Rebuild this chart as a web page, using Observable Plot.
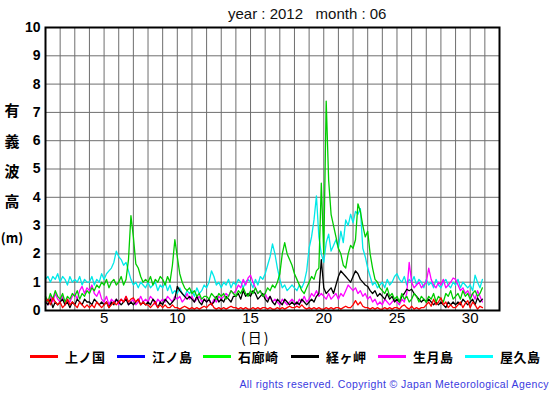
<!DOCTYPE html>
<html>
<head>
<meta charset="utf-8">
<script src="https://cdn.jsdelivr.net/npm/d3@7"></script>
<script src="https://cdn.jsdelivr.net/npm/@observablehq/plot@0.6"></script>
<style>
  html, body { margin: 0; padding: 0; background: #fff; }
  #wrap { position: relative; width: 555px; height: 395px; overflow: hidden; font-family: "Liberation Sans", Arial, sans-serif; }
  #wrap svg { position: absolute; left: 0; top: 0; }
  .abs { position: absolute; white-space: nowrap; }
  .ylab { position: absolute; width: 24px; text-align: center; font-family: "Noto Sans CJK JP", sans-serif; font-size: 15px; font-weight: bold; line-height: 18px; }
  .leg { position: absolute; font-family: "Noto Sans CJK JP", sans-serif; font-size: 13px; font-weight: bold; line-height: normal; white-space: nowrap; }
  .sw { position: absolute; height: 3px; }
  g[aria-label="y-axis tick label"] text { font-weight: bold; font-size: 14px; }
  g[aria-label="x-axis tick label"] text { font-size: 15px; }
</style>
</head>
<body>
<div id="wrap"></div>
<script>
// ---- data (hourly significant wave height, sampled every 4 h, June 2012) ----
const titleText = "year : 2012   month : 06";
const stations = ["上ノ国", "江ノ島", "石廊崎", "経ヶ岬", "生月島", "屋久島"];
const colors   = ["#ff0000", "#0000ff", "#00ff00", "#000000", "#ff00ff", "#00ffff"];
const lineColors = ["#ff0000", "#0000ff", "#00cc00", "#000000", "#ff00ff", "#00e8e8"];
const xTickLabels = [5, 10, 15, 20, 25, 30];
const yTickLabels = [0, 1, 2, 3, 4, 5, 6, 7, 8, 9, 10];
const gridDays = d3.range(1, 33);
const samplesPerDay = 6;

const kaminokuni = [
  0.3,0.4,0.2,0.45,0.3,0.2, 0.3,0.1,0.2,0.4,0.2,0.3, 0.2,0.1,0.3,0.2,0.1,0.2,
  0.1,0.2,0.1,0.3,0.2,0.1, 0.2,0.3,0.1,0.2,0.3,0.2, 0.3,0.4,0.3,0.5,0.3,0.4,
  0.45,0.3,0.4,0.2,0.3,0.2, 0.2,0.1,0.2,0.3,0.1,0.2, 0.1,0.2,0.1,0.1,0.2,0.1,
  0.1,0.05,0.1,0.15,0.1,0.05, 0.1,0.05,0.1,0.05,0.1,0.15, 0.1,0.2,0.25,0.1,0.05,0.1,
  0.05,0.1,0.05,0.1,0.15,0.1, 0.1,0.05,0.1,0.05,0.1,0.05, 0.05,0.1,0.05,0.1,0.05,0.1,
  0.1,0.05,0.1,0.05,0.05,0.1, 0.05,0.1,0.05,0.1,0.15,0.1, 0.1,0.15,0.1,0.2,0.1,0.05,
  0.1,0.05,0.1,0.05,0.1,0.05, 0.05,0.1,0.05,0.1,0.05,0.1, 0.1,0.05,0.1,0.15,0.1,0.1,
  0.2,0.35,0.2,0.3,0.15,0.1, 0.1,0.05,0.1,0.05,0.1,0.05, 0.05,0.1,0.05,0.1,0.05,0.1,
  0.1,0.05,0.15,0.2,0.1,0.05, 0.15,0.05,0.1,0.05,0.1,0.1, 0.2,0.3,0.15,0.4,0.2,0.3,
  0.45,0.2,0.3,0.1,0.2,0.1, 0.1,0.2,0.3,0.1,0.25,0.35, 0.1,0.3,0.2,0.05,0.15,0.1
];
const enoshima = []; // no data plotted
const irozaki = [
  0.5,0.3,0.6,0.4,0.7,0.5, 0.4,0.6,0.3,0.5,0.4,0.6, 0.5,0.7,0.4,0.6,0.5,0.7,
  0.6,0.8,0.7,0.9,0.8,1.0, 0.9,1.1,0.8,1.0,1.1,0.9, 1.0,1.2,0.9,1.1,1.8,3.35,
  2.6,1.65,1.5,1.2,1.0,1.1, 1.0,1.2,0.9,1.1,1.0,1.2, 1.1,0.9,1.2,1.0,1.6,2.5,
  1.9,1.3,1.0,0.8,0.7,0.8, 0.6,0.7,0.5,0.6,0.4,0.5, 0.5,0.4,0.6,0.5,0.4,0.6,
  0.5,0.6,0.4,0.5,0.7,0.6, 0.5,0.7,0.6,0.8,0.6,0.5, 0.7,0.6,0.8,0.6,0.7,0.5,
  0.6,0.8,0.7,0.9,0.8,1.0, 1.3,2.0,2.4,2.0,1.8,1.6, 1.3,1.1,0.9,0.7,0.6,0.8,
  1.0,1.2,1.1,1.4,1.5,4.5, 2.0,7.4,4.6,3.4,3.0,2.6, 2.2,2.0,1.6,1.5,2.0,2.3,
  2.2,2.5,3.77,3.5,3.0,2.6, 2.8,2.0,1.5,1.1,1.0,0.8, 0.7,0.6,0.8,0.5,0.6,0.4,
  0.5,0.3,0.6,0.4,0.5,0.3, 0.4,0.6,0.5,0.3,0.5,0.4, 0.3,0.5,0.4,0.6,0.3,0.5,
  0.4,0.3,0.6,0.5,0.7,0.4, 0.5,0.6,0.4,0.7,0.5,0.6, 0.4,0.6,0.7,0.5,0.6,0.8
];
const kyogamisaki = [
  0.3,0.2,0.4,0.1,0.3,0.2, 0.3,0.4,0.2,0.3,0.1,0.3, 0.2,0.4,0.3,0.2,0.4,0.3,
  0.3,0.2,0.4,0.3,0.2,0.3, 0.2,0.3,0.1,0.3,0.2,0.4, 0.3,0.2,0.3,0.4,0.2,0.3,
  0.2,0.3,0.4,0.2,0.3,0.2, 0.3,0.2,0.4,0.3,0.1,0.3, 0.2,0.4,0.3,0.2,0.3,0.4,
  0.85,0.7,0.6,0.5,0.4,0.5, 0.4,0.3,0.5,0.3,0.2,0.4, 0.3,0.4,0.2,0.3,0.5,0.3,
  0.4,0.3,0.5,0.4,0.3,0.5, 0.5,0.6,0.4,0.7,0.5,0.6, 0.5,0.7,0.6,0.4,0.5,0.6,
  0.4,0.3,0.5,0.3,0.2,0.4, 0.3,0.2,0.4,0.3,0.2,0.3, 0.2,0.3,0.2,0.4,0.3,0.2,
  0.3,0.4,0.3,0.5,0.6,1.8, 0.8,0.6,0.7,0.8,0.6,0.9, 1.2,1.4,1.3,1.2,1.1,1.0,
  1.2,1.4,1.3,1.1,1.0,0.9, 0.85,0.7,0.6,0.7,0.5,0.6, 0.5,0.4,0.6,0.4,0.5,0.3,
  0.4,0.3,0.5,0.6,0.75,0.7, 0.75,0.6,0.5,0.4,0.3,0.4, 0.3,0.4,0.3,0.2,0.3,0.2,
  0.3,0.2,0.1,0.3,0.2,0.3, 0.2,0.3,0.2,0.4,0.3,0.2, 0.3,0.4,0.2,0.45,0.3,0.4
];
const ikitsukishima = [
  0.4,0.2,0.5,0.3,0.6,0.4, 0.3,0.5,0.2,0.4,0.3,0.5, 0.6,0.4,0.7,0.85,0.6,0.8,
  0.7,0.9,0.6,0.5,0.7,0.4, 0.3,0.5,0.2,0.4,0.3,0.4, 0.2,0.4,0.3,0.5,0.2,0.3,
  0.4,0.2,0.3,0.5,0.3,0.4, 0.3,0.5,0.4,0.2,0.4,0.3, 0.4,0.3,0.5,0.4,0.3,0.5,
  0.4,0.5,0.3,0.4,0.6,0.4, 0.5,0.3,0.4,0.5,0.3,0.4, 0.3,0.4,0.2,0.4,0.3,0.5,
  0.4,0.5,0.6,0.5,0.7,0.6, 0.7,0.9,0.8,1.1,0.9,1.15, 1.25,1.0,0.8,0.6,0.7,0.5,
  0.6,0.4,0.5,0.3,0.4,0.3, 0.2,0.4,0.3,0.2,0.3,0.4, 0.3,0.2,0.4,0.3,0.5,0.3,
  0.4,0.6,0.5,0.7,0.5,0.6, 0.5,0.4,0.6,0.4,0.5,0.6, 0.4,0.6,0.5,0.7,0.9,0.8,
  0.7,0.8,0.6,0.7,0.5,0.6, 0.4,0.5,0.3,0.4,0.2,0.3, 0.2,0.4,0.3,0.2,0.3,0.4,
  0.3,0.2,0.4,0.3,0.6,1.7, 1.0,0.8,0.9,1.0,0.8,0.9, 1.0,1.5,1.1,0.9,0.8,1.0,
  0.9,1.1,0.8,0.9,1.0,1.15, 1.1,0.9,0.7,0.8,0.6,0.7, 0.5,0.6,0.4,0.7,0.5,0.3
];
const yakushima = [
  1.1,1.2,1.0,1.2,1.1,1.3, 1.0,1.2,1.1,0.9,1.2,1.0, 1.1,1.0,1.2,0.9,1.1,1.0,
  1.0,1.2,0.9,1.1,1.0,1.3, 1.1,1.3,1.4,1.5,1.7,2.1, 1.9,1.8,1.6,1.7,1.4,1.1,
  0.9,1.0,0.8,1.0,0.9,0.8, 1.0,0.8,0.9,1.0,0.7,0.9, 0.8,1.0,0.7,0.9,0.6,0.7,
  0.6,0.8,0.6,0.5,0.7,0.6, 0.7,0.5,0.8,0.6,0.7,0.9, 0.8,1.0,1.4,1.2,0.9,1.0,
  0.8,1.0,0.9,1.1,0.8,1.0, 0.9,1.1,1.0,0.8,1.0,1.1, 1.0,0.8,1.1,0.9,1.2,1.1,
  1.3,1.6,1.9,2.35,2.0,1.5, 1.1,0.8,0.9,0.7,0.8,0.9, 0.8,0.7,0.9,0.8,1.0,1.4,
  2.2,2.6,3.2,4.05,2.6,2.0, 1.7,2.4,2.7,2.1,2.3,2.5, 2.2,2.8,2.4,3.2,3.0,3.4,
  3.1,3.5,3.4,3.6,2.2,1.9, 1.5,1.2,0.9,1.0,0.8,0.9, 1.0,0.8,1.1,0.9,1.0,1.2,
  1.3,1.1,1.0,1.2,0.9,1.1, 1.0,1.2,0.9,1.1,1.0,0.8, 1.1,0.9,1.0,0.8,1.1,0.9,
  0.8,1.0,1.1,0.9,0.8,1.0, 0.9,1.1,0.8,1.0,0.9,0.8, 0.9,0.7,1.25,1.0,0.8,1.1
];
const seriesValues = [kaminokuni, enoshima, irozaki, kyogamisaki, ikitsukishima, yakushima];
const copyright = "All rights reserved. Copyright \u00a9 Japan Meteorological Agency";

// ---- build ----
const toRows = (vals) => vals.map((v, i) => ({t: 1 + i / samplesPerDay, v}));
const drawOrder = [5, 4, 3, 2, 1, 0];

const chart = Plot.plot({
  width: 555,
  height: 395,
  marginTop: 27,
  marginBottom: 85,
  marginLeft: 45,
  marginRight: 56,
  style: {fontFamily: "'Liberation Sans', Arial, sans-serif", color: "#000", background: "#fff"},
  x: {domain: [1, 32], label: null},
  y: {domain: [0, 10], label: null},
  marks: [
    Plot.ruleX(gridDays, {x: d => d, stroke: "#6e6e6e", strokeWidth: 1, strokeOpacity: 1}),
    Plot.ruleY(yTickLabels, {y: d => d, stroke: "#6e6e6e", strokeWidth: 1, strokeOpacity: 1}),
    ...drawOrder.map(k => Plot.line(toRows(seriesValues[k]), {x: "t", y: "v", stroke: lineColors[k], strokeWidth: 1.3})),
    Plot.frame({stroke: "#000", strokeWidth: 2}),
    Plot.axisY({ticks: yTickLabels, tickSize: 0, tickPadding: 5, fontWeight: "bold", fontSize: 14, label: null}),
    Plot.axisX({ticks: xTickLabels, tickSize: 0, tickPadding: 2, fontSize: 15, label: null})
  ]
});

const wrap = document.getElementById("wrap");
wrap.appendChild(chart);

function addDiv(cls, text, css) {
  const el = document.createElement("div");
  el.className = cls;
  el.textContent = text;
  Object.assign(el.style, css);
  wrap.appendChild(el);
  return el;
}

// title
addDiv("abs", titleText, {left: "228px", top: "5px", fontSize: "15px", lineHeight: "18px", color: "#111", whiteSpace: "pre"});

// y label (vertical characters)
const yLabelChars = ["有", "義", "波", "高", "(m)"];
const yLabelTops = [101, 132, 162, 192, 229];
yLabelChars.forEach((c, i) => addDiv("ylab", c, {left: "0px", top: yLabelTops[i] + "px", fontSize: i === 4 ? "13px" : "15px"}));

// x label
addDiv("abs", "(日)", {left: "241px", top: "326.5px", fontSize: "14px", letterSpacing: "2px", fontFamily: "'Noto Sans CJK JP', sans-serif", lineHeight: "normal"});

// legend
const legendX = [30, 117, 203, 291, 378, 465];
stations.forEach((s, i) => {
  const sw = document.createElement("div");
  sw.className = "sw";
  Object.assign(sw.style, {left: legendX[i] + "px", top: "355px", width: "28px", background: colors[i]});
  wrap.appendChild(sw);
  addDiv("leg", s, {left: (legendX[i] + 35) + "px", top: "347px", letterSpacing: "0.5px"});
});

// copyright
addDiv("abs", copyright, {right: "6px", top: "378px", fontSize: "10.5px", lineHeight: "13px", letterSpacing: "0.4px", color: "#3a3ae0"});
</script>
</body>
</html>
